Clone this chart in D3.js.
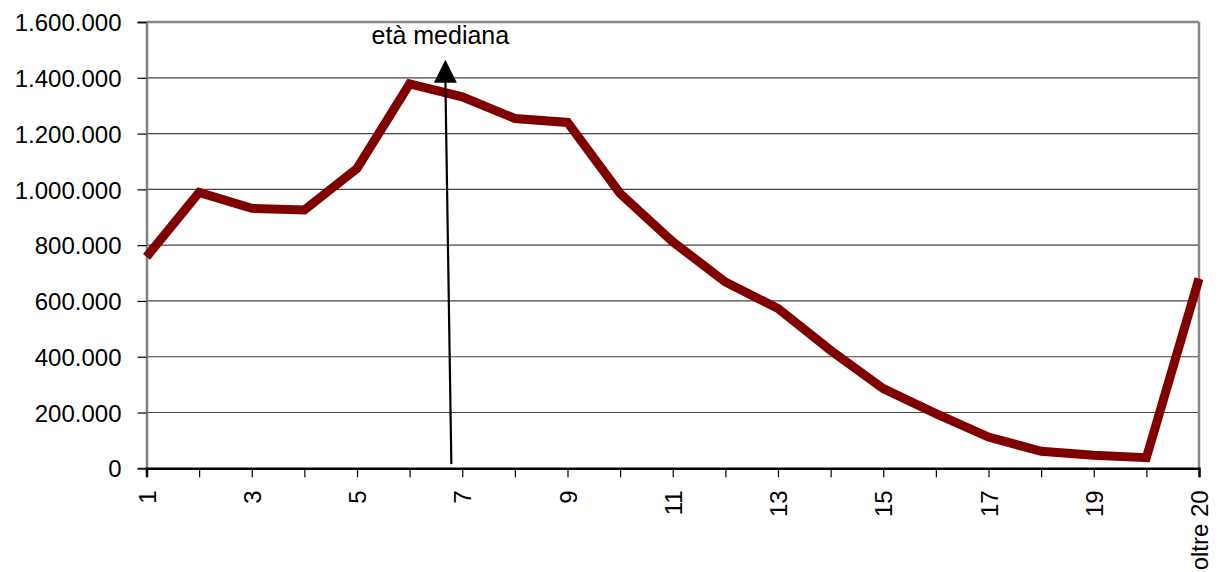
<!DOCTYPE html>
<html><head><meta charset="utf-8">
<script src="https://cdn.jsdelivr.net/npm/d3@7"></script>
<style>body{margin:0;background:#fff;} svg{display:block;} text{font-family:Arial,"Liberation Sans",sans-serif;fill:#000;}</style>
</head><body>
<svg id="c" width="1219" height="572"></svg>
<script>
const categories = ["1","2","3","4","5","6","7","8","9","10","11","12","13","14","15","16","17","18","19","20","oltre 20"];
const values = [758000, 989000, 932000, 926000, 1075000, 1378000, 1332000, 1254000, 1240000, 985000, 812000, 668000, 573000, 423000, 286000, 196000, 112000, 61000, 47000, 38000, 680000];
const yTicks = [0, 200000, 400000, 600000, 800000, 1000000, 1200000, 1400000, 1600000];
const shownLabels = ["1","3","5","7","9","11","13","15","17","19","oltre 20"];
const medianAge = 6.85;
const annotation = "età mediana";

const svg = d3.select("#c");
const L = 146.5, R = 1199, T = 22, B = 468.3;
const x = d3.scalePoint().domain(categories).range([L, R]);
const y = d3.scaleLinear().domain([0, 1600000]).range([B, T]);
const fmt = v => d3.format(",")(v).replace(/,/g, ".");

// gridlines
svg.append("g").selectAll("line").data(yTicks.filter(d => d > 0)).join("line")
  .attr("x1", L).attr("x2", R).attr("y1", d => y(d)).attr("y2", d => y(d))
  .attr("stroke", d => d === 1600000 ? "#888" : "#444").attr("stroke-width", d => d === 1600000 ? 2.5 : 1.2);
// right border
svg.append("line").attr("x1", R).attr("x2", R).attr("y1", T).attr("y2", B).attr("stroke", "#888").attr("stroke-width", 2.5);

// y axis
const ya = svg.append("g").attr("transform", `translate(${L},0)`)
  .call(d3.axisLeft(y).tickValues(yTicks).tickFormat(fmt).tickSize(9).tickPadding(16));
ya.select(".domain").attr("stroke", "#808080").attr("stroke-width", 2.5);
ya.selectAll(".tick line").attr("stroke", "#000").attr("stroke-width", 1.2);
ya.selectAll("text").style("font-size", "24px").attr("dy", "0.36em");

// x axis
const xa = svg.append("g").attr("transform", `translate(0,${B})`)
  .call(d3.axisBottom(x).tickSize(9).tickFormat(d => shownLabels.includes(d) ? d : ""));
xa.select(".domain").attr("stroke", "#000").attr("stroke-width", 2.5);
xa.selectAll(".tick line").attr("stroke", "#000").attr("stroke-width", 1.2);
xa.selectAll(".tick text").style("font-size", "24px")
  .attr("transform", "rotate(-90)").attr("text-anchor", "end")
  .attr("x", -22).attr("y", 0).attr("dy", "0.36em");

// data line
svg.append("path").datum(values)
  .attr("d", d3.line().x((d, i) => x(categories[i])).y(d => y(d)))
  .attr("fill", "none").attr("stroke", "#800000").attr("stroke-width", 9).attr("stroke-linejoin", "miter");

// median arrow
const xm = d3.scaleLinear().domain([1, categories.length]).range([L, R]);
const tipX = xm(medianAge) - 9, tipY = y(1465000);
const baseX = xm(medianAge) - 3;
svg.append("line").attr("x1", baseX).attr("y1", y(15000)).attr("x2", tipX).attr("y2", tipY + 20)
  .attr("stroke", "#000").attr("stroke-width", 2.2);
svg.append("path").attr("d", `M${tipX},${tipY} L${tipX-11.5},${tipY+23} L${tipX+11.5},${tipY+23} Z`).attr("fill", "#000");
svg.append("text").attr("x", tipX - 5).attr("y", 43.5).attr("text-anchor", "middle")
  .style("font-size", "25px").text(annotation);
</script>
</body></html>
